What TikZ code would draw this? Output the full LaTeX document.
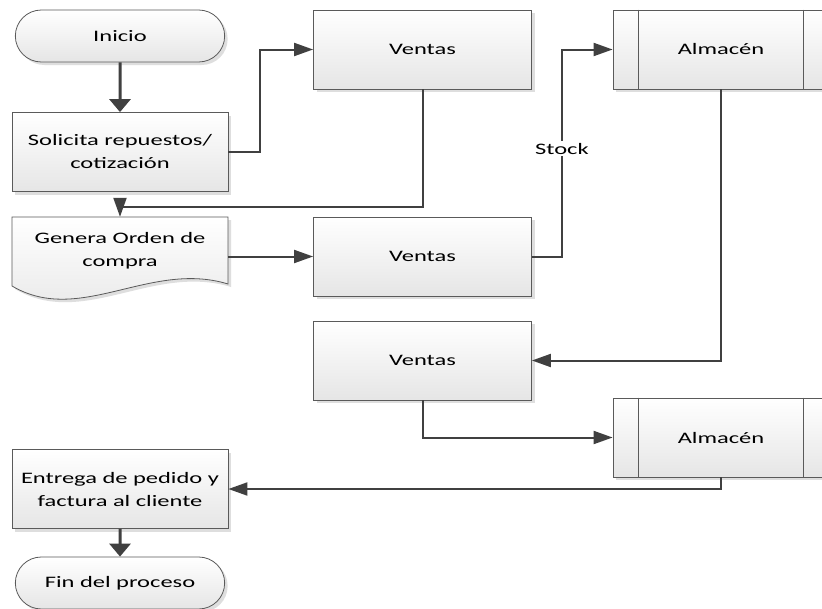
\documentclass[tikz,border=0pt]{standalone}
\usepackage{fontspec}
\setmainfont{Carlito}[FakeStretch=1.53]
\usetikzlibrary{arrows.meta,shapes.misc,shadows}

\definecolor{linegray}{HTML}{404040}
\definecolor{edgegray}{HTML}{5A5A5A}

\tikzset{
  boxfill/.style={draw=edgegray, line width=0.8pt, top color=white, bottom color=black!10,
    drop shadow={shadow xshift=3pt, shadow yshift=-3pt, fill=black!13, opacity=1}},
  box/.style={boxfill, rectangle, minimum width=216pt, minimum height=79pt,
    align=center, font=\fontsize{16}{23}\selectfont},
  term/.style={boxfill, rounded rectangle, minimum width=216pt, minimum height=52pt,
    font=\fontsize{16}{23}\selectfont},
  doctext/.style={rectangle, minimum width=216pt, minimum height=68pt,
    align=center, font=\fontsize{16}{23}\selectfont},
  arr/.style={draw=linegray, line width=2pt, -{Triangle[length=19pt,width=13pt]}},
  thickarr/.style={draw=linegray, line width=3pt, -{Triangle[length=13pt,width=21pt]}},
  lbl/.style={fill=white, inner sep=2pt, font=\fontsize{16}{23}\selectfont}
}

\begin{document}
\begin{tikzpicture}[x=1pt,y=-1pt]
  \clip (0,0) rectangle (822,608);
  \fill[white] (0,0) rectangle (822,608);

  % left column
  \node[term] (inicio) at (120,36) {Inicio};
  \node[box] (solicita) at (120,152) {Solicita repuestos/\\cotización};
  \path[boxfill] (12,217) -- (228,217) -- (228,284)
    .. controls (150,260) and (80,326) .. (12,286) -- cycle;
  \node[doctext] (genera) at (120,251) {Genera Orden de\\compra};
  \node[box] (entrega) at (120,489) {Entrega de pedido y\\factura al cliente};
  \node[term] (fin) at (120,583) {Fin del proceso};

  % middle column
  \node[box, minimum width=218pt] (ventas1) at (422.5,49.5) {Ventas};
  \node[box, minimum width=218pt] (ventas2) at (422.5,256.5) {Ventas};
  \node[box, minimum width=218pt] (ventas3) at (422.5,360.5) {Ventas};

  % right column
  \node[box] (alm1) at (721,49.5) {Almacén};
  \node[box] (alm2) at (721,437.5) {Almacén};
  \foreach \n in {alm1,alm2}{
    \draw[draw=edgegray, line width=0.8pt]
      ([xshift=26pt]\n.north west) -- ([xshift=26pt]\n.south west)
      ([xshift=-26pt]\n.north east) -- ([xshift=-26pt]\n.south east);
  }

  % connectors
  \draw[thickarr] (inicio) -- (solicita);
  \draw[arr] (solicita.east) -- ++(32,0) |- (ventas1.west);
  \draw[arr] (ventas1.south) -- ++(0,118) -| (genera.north);
  \draw[arr] (ventas2.west -| genera.east) -- (ventas2.west);
  \draw[arr] (ventas2.east) -- ++(30,0) |- node[lbl, pos=0.26] {Stock} (alm1.west);
  \draw[arr] (alm1.south) |- (ventas3.east);
  \draw[arr] (ventas3.south) |- (alm2.west);
  \draw[arr] (alm2.south) |- (entrega.east);
  \draw[thickarr] (entrega) -- (fin);
\end{tikzpicture}
\end{document}
